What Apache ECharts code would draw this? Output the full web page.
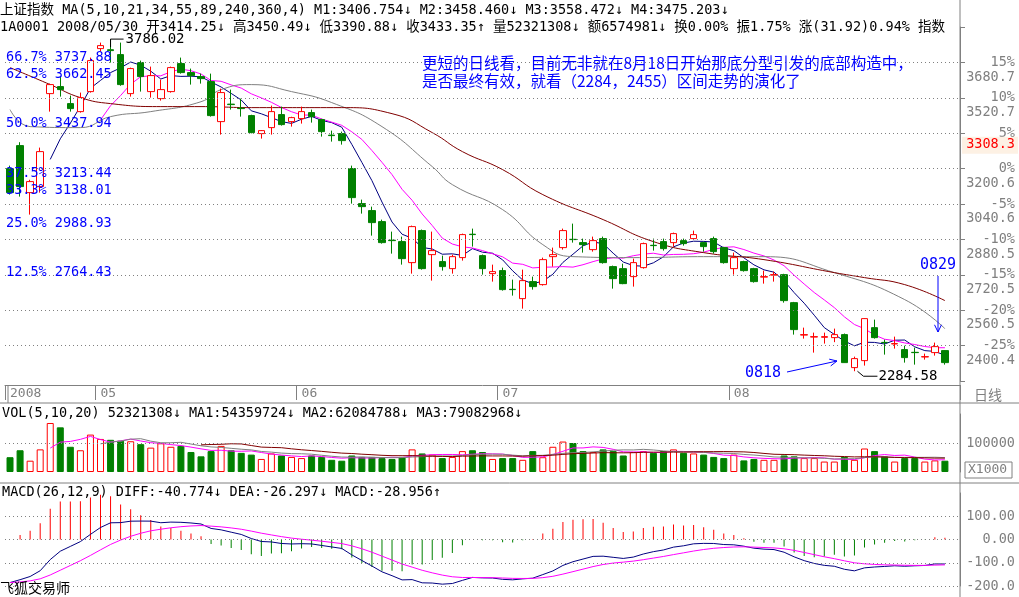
<!DOCTYPE html>
<html><head><meta charset="utf-8">
<script src="https://cdn.jsdelivr.net/npm/echarts@6/dist/echarts.min.js"></script>
<style>html,body{margin:0;padding:0;background:#fff}#c{width:1019px;height:597px}</style>
</head><body><div id="c"></div>
<script>
// ---------- DATA ----------
const monthDays = [
  ['04',[18,21,22,23,24,25,28,29,30]],
  ['05',[5,6,7,8,9,12,13,14,15,16,19,20,21,22,23,26,27,28,29,30]],
  ['06',[2,3,4,5,6,10,11,12,13,16,17,18,19,20,23,24,25,26,27,30]],
  ['07',[1,2,3,4,7,8,9,10,11,14,15,16,17,18,21,22,23,24,25,28,29,30,31]],
  ['08',[1,4,5,6,7,8,11,12,13,14,15,18,19,20,21,22,25,26,27,28,29]],
  ['09',[1]]
];
const shownMonths = ['2008','05','06','07','08'];
const opens = [3200.6,3304.5,3092.0,3119.2,3539.6,3571.3,3494.4,3458.2,3548.7,3743.1,
3738,3715.9,3539.6,3679.8,3548.7,3517.0,3548.7,3675.3,3634.6,3616.5,
3593.9,3413.0,3492,3474,3440.2,3358.8,3385.9,3444.7,3413.0,3426.6,
3453.7,3422.1,3352,3358.8,3200.6,3042.3,3010.7,2960.9,2877,2870.5,
2775.5,2920.3,2811.7,2780.1,2748.4,2798.2,2904,2807.2,2725.8,2739.4,
2655,2612.8,2689.7,2676.1,2802.6,2843.4,2881,2866.0,2834.3,2884.1,
2757.5,2748.4,2712.3,2752.9,2854,2870.5,2866.0,2875.0,2884.1,2866.0,
2884.1,2843.4,2748.4,2780.1,2748.4,2710,2719,2721.3,2594.7,2448,
2439,2438,2436.5,2450.1,2300.9,2332.5,2481.7,2415,2408,2382.3,
2370,2349,2368.7,2377.8];
const closes = [3092.0,3119.2,3141.8,3277.4,3580.3,3557.7,3471.8,3521.5,3688.8,3756.6,
3734,3580.3,3652.7,3616.5,3621.0,3557.7,3657.2,3634.6,3621.0,3607.4,
3440.2,3544.2,3489.9,3471.8,3363.3,3372.3,3458.2,3399.5,3431.1,3458.2,
3435.6,3367.8,3349.7,3327.1,3069.4,3028.7,2956.4,2866.0,2875.0,2793.6,
2938.3,2748.4,2829.8,2757.5,2802.6,2902.2,2902.2,2748.4,2734.9,2653.5,
2653.5,2694.2,2667.1,2789.1,2811.7,2920.3,2879.6,2856.9,2875.0,2775.5,
2703.2,2680.6,2775.5,2861.5,2852.4,2838.9,2906.7,2861.5,2902.2,2847.9,
2825.3,2775.5,2798.2,2739.4,2689.7,2712.3,2721.3,2603.8,2472.7,2450.1,
2441.0,2441.0,2450.1,2323.5,2341.6,2522.4,2436.5,2413.9,2409.4,2346.1,
2368.7,2350.6,2395.8,2323.5];
const lows = [3083,3074.0,2992.6,3092.0,3458.2,3526.1,3458.2,3453.7,3544,3729.5,
3679.8,3575,3526.1,3548.7,3521.5,3508.0,3544,3630,3580.3,3584.8,
3435.6,3354.2,3467.3,3435.6,3360,3336.2,3354.2,3395,3390.4,3404.0,
3408.5,3345.2,3322.6,3309.0,3042.3,2997.1,2897.6,2861.5,2816.2,2766.5,
2725.8,2743.9,2694.2,2739.4,2725.8,2784.6,2847.9,2721.3,2689.7,2649.0,
2626.4,2567.6,2653.5,2671.6,2757.5,2834.3,2866.0,2820.8,2825.3,2771.0,
2658.0,2678,2667.1,2748.4,2829.8,2829.8,2847.9,2852.4,2879.6,2825.3,
2816.2,2771.0,2721.3,2734.9,2685.2,2680.6,2689.7,2594.7,2450.1,2432.0,
2368.7,2409.4,2416,2323,2284.58,2310.0,2432,2359.7,2386.8,2323.5,
2314.4,2337.1,2355.2,2314.4];
const highs = [3214,3320,3150,3295.5,3584.8,3616.5,3530.6,3544.2,3702.4,3770.2,
3786.02,3770.2,3657,3688.8,3661.7,3602.9,3661.7,3702.4,3652.7,3630,
3630,3562,3557.7,3517.0,3444,3375,3485.4,3480.9,3435,3480.9,
3467.3,3426,3372.3,3367.8,3214.1,3060.4,3028.7,2970.0,2915.7,2893.1,
2942.9,2925,2915.7,2807.2,2811.7,2906.7,2929.3,2812,2766.5,2752.9,
2698.7,2743.9,2712.3,2798.2,2843.4,2929.3,2951.9,2884.1,2893.1,2893.1,
2762.0,2771.0,2793.6,2866,2884.1,2884.1,2911.2,2884.1,2920.3,2870,
2893.1,2847,2820.8,2784,2752,2739.4,2734.9,2725,2598,2481.7,
2459.1,2459.1,2477.2,2455,2350.6,2524,2517.9,2427.5,2441.0,2400,
2391.3,2364.2,2413.9,2380];
// volume, in thousands of the axis unit (axis label 100000 = 100)
const volumes = [51,75,39,78,169,154,87,75,129,114,
111,108,106,96,84,99,87,90,69,54,
72,90,75,66,60,45,64,57,52,48,
57,52,42,39,57,52,52,48,45,52,
78,64,60,48,52,72,75,69,45,48,
48,42,72,51,87,105,100,72,69,78,
72,57,69,72,66,72,78,66,64,60,
52,48,60,40,45,42,42,57,54,48,
48,36,36,52,42,81,72,54,36,48,
48,36,40,39];
// longer moving averages: [index, value]
const ma3Points = [[0,3467.3],[2,3390.4],[7,3385.9],[10,3435.6],[14,3458.2],[19,3503],[21,3557.7],[24,3580.3],[28,3548.7],[32,3499],[37,3390.4],[42,3209.6],[44,3128.2],[49,3015.2],[53,2856.9],[56,2802.6],[62,2798.2],[69,2802.6],[75,2802.6],[82,2730.4],[89,2608.3],[93,2477.2]];
const ma4Points = [[0,3657.2],[4,3580.3],[7,3521.5],[10,3494.4],[15,3480.9],[19,3480.9],[24,3476.3],[33,3476.3],[38,3449],[42,3363.3],[45,3277.4],[49,3196],[53,3083],[59,2970],[64,2870.5],[69,2820.8],[75,2789.1],[82,2730.4],[85,2707.8],[89,2676.1],[93,2603.8]];
const fibLevels = [['66.7%',3737.88],['62.5%',3662.45],['50.0%',3437.94],['37.5%',3213.44],['33.3%',3138.01],['25.0%',2988.93],['12.5%',2764.43]];
const priceStep = 160.03;      // 5% grid step of the price axis
const macdSeed = {ema12: 3150, ema26: 3345, dea: -185};

// ---------- BUILD ----------
const dates = [], monthStart = {};
monthDays.forEach(([m, ds]) => ds.forEach((d, j) => {
  if (j === 0) { const lab = dates.length === 0 ? '2008' : m; if (shownMonths.includes(lab)) monthStart[dates.length] = lab; }
  dates.push('2008/' + m + '/' + String(d).padStart(2,'0'));
}));
dates.push('');
const N = closes.length;
const candle = closes.map((c,i)=>[opens[i],c,lows[i],highs[i]]);
function ma(arr,n){return arr.map((v,i)=>{if(i<n-1)return null;let s=0;for(let k=i-n+1;k<=i;k++)s+=arr[k];return +(s/n).toFixed(2);});}
function sparse(pts){const a=new Array(N).fill(null);pts.forEach(([i,v])=>a[i]=v);return a;}
let e12=macdSeed.ema12,e26=macdSeed.ema26,dea=macdSeed.dea;const diffA=[],deaA=[],histA=[];
closes.forEach(c=>{e12=(2*c+10*e12)/12;e26=(2*c+24*e26)/26;const d=e12-e26;dea=(2*d+8*dea)/10;diffA.push(+d.toFixed(2));deaA.push(+dea.toFixed(2));histA.push(+(2*(d-dea)).toFixed(2));});
const volData = volumes.map((v,i)=>{const up=closes[i]>=opens[i];return {value:v,itemStyle:{color:up?'#ffffff':'#008000',borderColor:up?'#ff0000':'#008000',borderWidth:1}};});
const histData = histA.map(v=>({value:v,itemStyle:{color:v>=0?'#ff0000':'#008000'}}));
const gridLevels=[];for(let k=15;k<=23;k++)gridLevels.push({yAxis:k*priceStep});

const MONO='"DejaVu Sans Mono","Noto Sans CJK SC",monospace';
const dotted={color:'#808080',type:[1,3],width:1};
const L=5,R=59;
const chart = echarts.init(document.getElementById('c'));
const hidX = (gi)=>({type:'category',gridIndex:gi,data:dates,boundaryGap:true,axisLine:{show:false},axisTick:{show:false},axisLabel:{show:false},splitLine:{show:false}});
const lineS=(name,data,color,xi,yi,smooth)=>({name,type:'line',data,xAxisIndex:xi,yAxisIndex:yi,symbol:'none',smooth:!!smooth,connectNulls:true,lineStyle:{color,width:1},silent:true,z:3});
chart.setOption({
  animation:false,backgroundColor:'#ffffff',
  textStyle:{fontFamily:MONO},
  grid:[{left:L,right:R,top:27,height:354},{left:L,right:R,top:414,height:58},{left:L,right:R,top:493,height:93}],
  xAxis:[
    {type:'category',gridIndex:0,data:dates,boundaryGap:true,offset:4,
     axisLine:{show:true,lineStyle:{color:'#808080'}},
     axisTick:{show:true,length:15,interval:(i)=>monthStart[i]!==undefined,lineStyle:{color:'#808080'}},
     axisLabel:{show:true,interval:(i)=>monthStart[i]!==undefined,formatter:(v,i)=>monthStart[i]||'',align:'left',margin:2,color:'#808080',fontFamily:MONO,fontSize:13},
     splitLine:{show:false}},
    hidX(1),hidX(2)],
  yAxis:[
    {type:'value',gridIndex:0,position:'right',min:14*priceStep,max:24*priceStep,interval:priceStep,scale:true,
     axisLine:{show:true,lineStyle:{color:'#808080'}},axisTick:{show:true,length:5,lineStyle:{color:'#808080'}},splitLine:{show:false},
     axisLabel:{align:'right',margin:55,color:'#808080',fontFamily:MONO,fontSize:13.5,
       formatter:v=>{const k=Math.round(v/priceStep);return (k<15||k>23)?'':((k-20)*5)+'%';}}},
    {type:'value',gridIndex:0,position:'right',min:14*priceStep,max:24*priceStep,interval:priceStep,
     axisLine:{show:false},axisTick:{show:false},splitLine:{show:false},
     axisLabel:{align:'right',margin:55,color:'#808080',fontFamily:MONO,fontSize:13.5,verticalAlign:'top',padding:[8,0,0,0],
       formatter:v=>{const k=Math.round(v/priceStep);return (k<15||k>23)?'':v.toFixed(1);}}},
    {type:'value',gridIndex:1,position:'right',min:0,max:200,interval:100,
     axisLine:{show:true,lineStyle:{color:'#808080'}},axisTick:{show:false},splitLine:{show:false},
     axisLabel:{align:'right',margin:55,color:'#808080',fontFamily:MONO,fontSize:13.5,formatter:v=>v===100?'100000':''}},
    {type:'value',gridIndex:2,position:'right',min:-200,max:200,interval:100,
     axisLine:{show:true,lineStyle:{color:'#808080'}},axisTick:{show:false},splitLine:{show:false},
     axisLabel:{align:'right',margin:55,color:'#808080',fontFamily:MONO,fontSize:13.5,
       formatter:v=>({100:'100.00',0:'0.00','-100':'-100.0','-200':'-200.0'})[v]||''}}
  ],
  series:[
    {name:'K',type:'candlestick',data:candle,xAxisIndex:0,yAxisIndex:0,barWidth:7,silent:true,z:4,
     itemStyle:{color:'#ffffff',color0:'#008000',borderColor:'#ff0000',borderColor0:'#008000',borderWidth:1},
     markLine:{silent:true,symbol:'none',animation:false,
       data:gridLevels.map(g=>({yAxis:g.yAxis,lineStyle:dotted,label:{show:false}})).concat(
         fibLevels.map(([p,v])=>({yAxis:v,lineStyle:{color:'rgba(0,0,0,0)',width:0},label:{show:true,position:'insideStartBottom',distance:1,formatter:p+' '+v.toFixed(2),color:'#0000ff',fontFamily:MONO,fontSize:13.5}})))}},
    lineS('M1',ma(closes,5),'#000080',0,0),
    lineS('M2',ma(closes,10),'#ff00ff',0,0),
    lineS('M3',sparse(ma3Points),'#808080',0,0,0.4),
    lineS('M4',sparse(ma4Points),'#800000',0,0,0.4),
    {name:'VOL',type:'bar',data:volData,xAxisIndex:1,yAxisIndex:2,barWidth:7,silent:true,
     markLine:{silent:true,symbol:'none',data:[{yAxis:100,lineStyle:dotted,label:{show:false}}]}},
    lineS('VMA1',ma(volumes,5),'#ff00ff',1,2),
    lineS('VMA2',ma(volumes,10),'#808080',1,2),
    lineS('VMA3',ma(volumes,20),'#800000',1,2),
    {name:'MACD',type:'bar',data:histData,xAxisIndex:2,yAxisIndex:3,barWidth:1,silent:true,
     markLine:{silent:true,symbol:'none',data:[100,0,-100,-200].map(v=>({yAxis:v,lineStyle:dotted,label:{show:false}}))}},
    lineS('DIFF',diffA,'#000080',2,3),
    lineS('DEA',deaA,'#ff00ff',2,3)
  ]
});

// ---------- ANNOTATIONS ----------
const px=(i,v)=>chart.convertToPixel({xAxisIndex:0,yAxisIndex:0},[dates[i],v]);
const hi=px(10,3786.02), lo=px(84,2284.58), cur=px(0,3308.3);
const rich={k:{color:'#000'},a:{color:'#000080'},b:{color:'#ff00ff'},c:{color:'#808080'},d:{color:'#800000'},r:{color:'#ff0000'},g:{color:'#008000'}};
const txt=(x,y,text,extra)=>Object.assign({type:'text',x,y,z:100,style:{text,rich,fill:'#000',font:'13.5px '+MONO,verticalAlign:'middle'}},extra||{});
const line=(pts,color)=>({type:'polyline',z:100,shape:{points:pts},style:{stroke:color||'#000',lineWidth:1,fill:null}});
const arrow=(x1,y1,x2,y2,c)=>{const a=Math.atan2(y2-y1,x2-x1),s=8;return [line([[x1,y1],[x2,y2]],c),line([[x2-s*Math.cos(a-0.45),y2-s*Math.sin(a-0.45)],[x2,y2],[x2-s*Math.cos(a+0.45),y2-s*Math.sin(a+0.45)]],c)];};
const g=[
  line([[960,0],[960,597]],'#808080'),
  line([[0,403],[1019,403]],'#808080'),
  line([[0,483],[1019,483]],'#808080'),
  line([[8,385],[8,403]],'#808080'),
  txt(0,10,'{k|上证指数 MA(5,10,21,34,55,89,240,360,4) }{a|M1:3406.754↓ }{b|M2:3458.460↓ }{c|M3:3558.472↓ }{d|M4:3475.203↓}'),
  txt(0,27,'{k|1A0001 2008/05/30 }{r|开3414.25↓ 高3450.49↓ }{g|低3390.88↓ }{r|收3433.35↑ }{k|量52321308↓ 额6574981↓ 换0.00% 振1.75% }{r|涨(31.92)0.94% 指数}'),
  txt(2,413,'{k|VOL(5,10,20) }{a|52321308↓ }{b|MA1:54359724↓ }{c|MA2:62084788↓ }{d|MA3:79082968↓}'),
  txt(2,492,'{k|MACD(26,12,9) }{a|DIFF:-40.774↓ }{b|DEA:-26.297↓ }{c|MACD:-28.956↑}'),
  txt(0,588,'飞狐交易师',{style:{text:'飞狐交易师',fill:'#000',font:'14px "Noto Sans CJK SC"',verticalAlign:'middle'}}),
  txt(974,395,'日线',{style:{text:'日线',fill:'#808080',font:'14px "Noto Sans CJK SC"',verticalAlign:'middle'}}),
  {type:'rect',z:99,shape:{x:965,y:462,width:47,height:16},style:{fill:'#fff',stroke:'#808080'}},
  txt(968,470,'X1000',{style:{text:'X1000',fill:'#808080',font:'13px '+MONO,verticalAlign:'middle'}}),
  {type:'rect',z:99,shape:{x:962,y:cur[1]-8,width:56,height:17},style:{fill:'#fdf1e4'}},
  txt(1015,cur[1],'3308.3',{style:{text:'3308.3',fill:'#ff0000',font:'13.5px '+MONO,verticalAlign:'middle',align:'right'}}),
  line([[hi[0],hi[1]+8],[hi[0],hi[1]],[hi[0]+13,hi[1]]]),
  txt(hi[0]+15,hi[1],'3786.02',{style:{text:'3786.02',fill:'#000',font:'14px '+MONO,verticalAlign:'middle'}}),
  line([[lo[0]+3,lo[1]],[lo[0]+9,lo[1]+5],[lo[0]+23,lo[1]+5]]),
  txt(lo[0]+24,lo[1]+5,'2284.58',{style:{text:'2284.58',fill:'#000',font:'14px '+MONO,verticalAlign:'middle'}}),
  {type:'text',x:422,y:72,z:100,style:{text:'更短的日线看，目前无非就在8月18日开始那底分型引发的底部构造中，\n是否最终有效，就看（2284，2455）区间走势的演化了',fill:'#0000ff',font:'15.5px "Noto Sans CJK SC"',lineHeight:18,verticalAlign:'middle'}},
  txt(920,265,'0829',{style:{text:'0829',fill:'#0000ff',font:'15px '+MONO,verticalAlign:'middle'}}),
  txt(745,373,'0818',{style:{text:'0818',fill:'#0000ff',font:'15px '+MONO,verticalAlign:'middle'}})
].concat(arrow(938,276,938,332,'#0000ff'),arrow(787,372,837,361,'#0000ff'));
chart.setOption({graphic:g});
</script></body></html>
